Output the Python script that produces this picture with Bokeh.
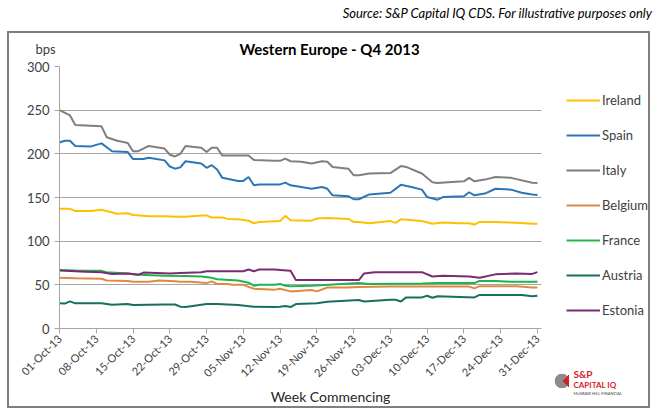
import pandas as pd
from math import pi
from bokeh.plotting import figure
from bokeh.models import (Range1d, FixedTicker, Label, Legend, LegendItem,
                          DatetimeTickFormatter)
from bokeh.embed import file_html
from bokeh.resources import INLINE

# ---------------- data ----------------
week_labels = ["01-Oct-13", "08-Oct-13", "15-Oct-13", "22-Oct-13", "29-Oct-13",
               "05-Nov-13", "12-Nov-13", "19-Nov-13", "26-Nov-13", "03-Dec-13",
               "10-Dec-13", "17-Dec-13", "24-Dec-13", "31-Dec-13"]
y_ticks = [0, 50, 100, 150, 200, 250, 300]

ireland_dates = ["10-01", "10-03", "10-04", "10-07", "10-09", "10-12", "10-14", "10-15", "10-18",
                 "10-21", "10-23", "10-25", "10-28", "10-29", "10-30", "11-01", "11-02", "11-04",
                 "11-06", "11-07", "11-08", "11-12", "11-13", "11-14", "11-18", "11-19", "11-21",
                 "11-25", "11-26", "11-27", "11-29", "12-03", "12-04", "12-05", "12-09", "12-11",
                 "12-13", "12-16", "12-18", "12-19", "12-20", "12-23", "12-27", "12-30", "12-31"]
ireland_bps = [137, 137, 134.5, 134.5, 136, 131.5, 132, 130, 128.5,
               128.5, 128, 128, 129.5, 129.5, 127, 127, 125.5, 125,
               123.5, 120.5, 122, 123, 129, 124, 123.5, 126, 126.5,
               125.5, 122, 122, 120.5, 123, 121, 125, 123, 120,
               121.5, 120.5, 120.5, 119, 122, 122, 121, 120, 120]

spain_dates = ["10-01", "10-02", "10-03", "10-04", "10-07", "10-09", "10-11", "10-14", "10-15",
               "10-17", "10-18", "10-21", "10-22", "10-23", "10-24", "10-25", "10-28", "10-29",
               "10-30", "10-31", "11-01", "11-04", "11-05", "11-06", "11-07", "11-08", "11-12",
               "11-13", "11-14", "11-16", "11-18", "11-20", "11-21", "11-22", "11-25", "11-26",
               "11-27", "11-29", "12-03", "12-05", "12-07", "12-09", "12-10", "12-12", "12-13",
               "12-17", "12-18", "12-19", "12-21", "12-23", "12-26", "12-28", "12-30", "12-31"]
spain_bps = [213, 215, 215, 209, 208.5, 212, 203, 202, 194,
             194, 195.5, 192.5, 185.5, 183, 184.5, 191.5, 189, 184,
             187, 182, 172.5, 169, 169, 173.5, 164, 165, 165,
             167, 164, 162, 160, 162, 160, 152.5, 151.5, 148,
             148, 153.5, 155.5, 164.5, 162, 159, 150.5, 147.5, 150.5,
             151.5, 156, 152.5, 154.5, 160, 159, 155.5, 153.5, 153]

italy_dates = ["10-01", "10-03", "10-04", "10-09", "10-10", "10-12", "10-14", "10-15", "10-16",
               "10-18", "10-21", "10-22", "10-23", "10-24", "10-25", "10-28", "10-29", "10-30",
               "10-31", "11-01", "11-06", "11-07", "11-11", "11-12", "11-13", "11-14", "11-16",
               "11-18", "11-20", "11-21", "11-22", "11-25", "11-26", "11-27", "11-29", "12-03",
               "12-05", "12-06", "12-09", "12-11", "12-12", "12-14", "12-17", "12-18", "12-19",
               "12-21", "12-23", "12-26", "12-30", "12-31"]
italy_bps = [250, 244, 233, 231.5, 219, 215, 212.5, 203, 203,
             209, 206, 199, 197, 200, 209, 207, 202, 207,
             207, 198, 198, 193, 192, 192, 194.5, 191.5, 191,
             189, 191.5, 191, 185, 183, 175.5, 175.5, 177.5, 178,
             186, 185, 177.5, 167.5, 166.5, 167.5, 168.5, 172.5, 168.5,
             170.5, 173.5, 172.5, 167, 166.5]

belgium_dates = ["10-01", "10-04", "10-09", "10-10", "10-14", "10-15", "10-18", "10-20", "10-23",
                 "10-24", "10-26", "10-29", "10-30", "10-31", "11-02", "11-03", "11-05", "11-07",
                 "11-11", "11-12", "11-14", "11-18", "11-19", "11-21", "11-25", "11-27", "12-03",
                 "12-18", "12-19", "12-20", "12-27", "12-30", "12-31"]
belgium_bps = [58, 57.5, 57, 55, 54.5, 53.5, 53.5, 55, 54,
               53.5, 53.5, 52, 54, 51, 51, 50, 50, 45.5,
               44.5, 45.5, 42.5, 44, 42.5, 47, 47, 47.5, 48,
               48, 46, 48.5, 48.5, 47, 47]

france_dates = ["10-01", "10-04", "10-09", "10-10", "10-14", "10-16", "10-21", "10-25", "10-28",
                "10-30", "10-31", "11-04", "11-06", "11-07", "11-08", "11-11", "11-12", "11-13",
                "11-14", "11-18", "11-27", "11-29", "12-09", "12-12", "12-19", "12-20", "12-23",
                "12-26", "12-31"]
france_bps = [67, 66.5, 66, 64.5, 63, 61.5, 60.5, 60, 59.5,
              58, 56.5, 55, 52.5, 49, 50, 50, 51, 49,
              48.5, 49, 52, 51, 51.5, 52, 52, 54.5, 54.5,
              53.5, 53.5]

austria_dates = ["10-01", "10-02", "10-03", "10-04", "10-09", "10-11", "10-14", "10-15", "10-21",
                 "10-23", "10-24", "10-25", "10-29", "10-31", "11-04", "11-07", "11-11", "11-12",
                 "11-13", "11-14", "11-15", "11-19", "11-21", "11-27", "11-28", "12-03", "12-04",
                 "12-05", "12-06", "12-09", "12-10", "12-11", "12-12", "12-19", "12-20", "12-28",
                 "12-30", "12-31"]
austria_bps = [29, 28.5, 31, 28.8, 28.8, 27.2, 28, 27, 27.5,
               27.5, 25, 24.6, 28, 28, 27, 25, 24.6, 25,
               25.7, 24.6, 28, 28.8, 30.6, 32.6, 31, 33, 33,
               31, 35.6, 35.6, 37.5, 35.2, 37, 35.6, 38.5, 38.3,
               36.8, 37.5]

estonia_dates = ["10-01", "10-06", "10-09", "10-11", "10-14", "10-16", "10-17", "10-22", "10-24",
                 "10-28", "10-29", "11-05", "11-06", "11-07", "11-08", "11-11", "11-12", "11-14",
                 "11-15", "11-27", "11-28", "11-30", "12-09", "12-11", "12-13", "12-18", "12-20",
                 "12-23", "12-27", "12-30", "12-31"]
estonia_bps = [66.5, 65, 64.5, 62.5, 63, 61.5, 64, 63, 63.5,
               64.5, 65.5, 65.5, 67.5, 65.5, 67.5, 67.5, 67, 66,
               55.5, 55.5, 63, 64.5, 64.5, 59.5, 60.5, 59.5, 58,
               62, 63, 62.5, 64.5]

series = [
    ("Ireland", ireland_dates, ireland_bps, "#FFC000"),
    ("Spain", spain_dates, spain_bps, "#2E75B6"),
    ("Italy", italy_dates, italy_bps, "#7F7F7F"),
    ("Belgium", belgium_dates, belgium_bps, "#DE8A43"),
    ("France", france_dates, france_bps, "#22B24C"),
    ("Austria", austria_dates, austria_bps, "#17705F"),
    ("Estonia", estonia_dates, estonia_bps, "#7E2A72"),
]

# ---------------- figure ----------------
FONT = "Lato"
week_ts = pd.to_datetime(week_labels, format="%d-%b-%y")
week_ms = [int(t.value // 10**6) for t in week_ts]
day_ms = 86400000
data_end = week_ms[-1] + 0.8 * day_ms          # right end of the plotted area
view_end = week_ms[0] + 113.1 * day_ms         # frame also holds the legend

G = "#7F7F7F"
frame_css = {
    "background-color": "white",
    "background-image": ", ".join([
        "conic-gradient(from 45deg, #D6202A 0deg 90deg, rgba(0,0,0,0) 90deg)",
        "radial-gradient(circle at 562px 381px, #8C8C8C 0px, #8C8C8C 7px, rgba(0,0,0,0) 7.6px)",
        f"linear-gradient({G},{G})", f"linear-gradient({G},{G})",
        f"linear-gradient({G},{G})", f"linear-gradient({G},{G})"]),
    "background-size": "12px 12px, 100% 100%, 643px 2px, 643px 2px, 2px 377px, 2px 377px",
    "background-position": "557px 375px, 0px 0px, 7px 31px, 7px 406px, 7px 31px, 648px 31px",
    "background-repeat": "no-repeat",
}

p = figure(width=661, height=416, x_axis_type="datetime",
           x_range=Range1d(week_ms[0], view_end),
           y_range=Range1d(y_ticks[0], y_ticks[-1]),
           output_backend="svg", toolbar_location=None,
           min_border_left=59, min_border_right=8,
           min_border_top=66, min_border_bottom=88,
           styles=frame_css)
p.outline_line_color = None
p.background_fill_alpha = 0
p.border_fill_alpha = 0

p.xgrid.grid_line_color = None
p.ygrid.grid_line_color = "#A6A6A6"
p.ygrid.grid_line_width = 1
try:
    p.ygrid[0].cross_bounds = (week_ms[0], data_end)
except Exception:
    pass
p.yaxis.ticker = FixedTicker(ticks=y_ticks)
p.xaxis.ticker = FixedTicker(ticks=week_ms)
p.xaxis.bounds = (week_ms[0], data_end)
p.xaxis.major_label_overrides = {ms: lab for ms, lab in zip(week_ms, week_labels)}
p.xaxis.formatter = DatetimeTickFormatter(days="%d-%b-%y", months="%d-%b-%y",
                                          years="%d-%b-%y", hours="%d-%b-%y")

for ax in (p.xaxis[0], p.yaxis[0]):
    ax.axis_line_color = "#A6A6A6"
    ax.major_tick_line_color = "#A6A6A6"
    ax.major_tick_out = 5
    ax.major_tick_in = 0
    ax.minor_tick_line_color = None
    ax.major_label_text_font = FONT
    ax.major_label_text_color = "#404040"
p.yaxis.major_label_text_font_size = "13px"
p.yaxis.major_label_standoff = 5
p.xaxis.major_label_text_font_size = "11px"
p.xaxis.major_label_orientation = pi / 4
p.xaxis.major_label_standoff = 3

# one single-entry legend per series, stacked 35px apart to the right of the data
for i, (name, d, v, col) in enumerate(series):
    xs = pd.to_datetime(["2013-" + s for s in d])
    r = p.line(xs, v, line_color=col, line_width=2)
    leg = Legend(items=[LegendItem(label=name, renderers=[r])],
                 location=(507, 218 - 35 * i), orientation="vertical",
                 margin=0, padding=0, glyph_width=34, glyph_height=20,
                 label_height=20, label_standoff=2, label_text_font=FONT,
                 label_text_font_size="13px", label_text_color="#404040",
                 label_text_align="left",
                 background_fill_alpha=0, border_line_alpha=0)
    p.add_layout(leg)

def lab(x, y, text, size, place, align="left", style="normal", color="#000000"):
    # canvas coordinates (px from the top-left corner of the figure)
    p.add_layout(Label(x=x, y=y, x_units="canvas", y_units="canvas", text=text,
                       text_font=FONT, text_font_size=size, text_align=align,
                       text_baseline="middle", text_font_style=style, text_color=color), place)

lab(652, 12, "Source: S&P Capital IQ CDS. For illustrative purposes only", "13px", "above",
    align="right", style="italic")
lab(329, 48, "Western Europe - Q4 2013", "15px", "above", align="center", style="bold")
lab(35, 48, "bps", "13px", "left", color="#404040")
lab(330, 396, "Week Commencing", "14px", "below", align="center", color="#262626")
# logo
lab(573, 373, "S&P", "10px", "above", style="bold", color="#D6202A")
lab(573, 384, "CAPITAL IQ", "8px", "above", style="bold", color="#D6202A")
lab(573, 393, "McGRAW HILL FINANCIAL", "4px", "below", color="#404040")

open("out.html", "w").write(file_html(p, INLINE))
